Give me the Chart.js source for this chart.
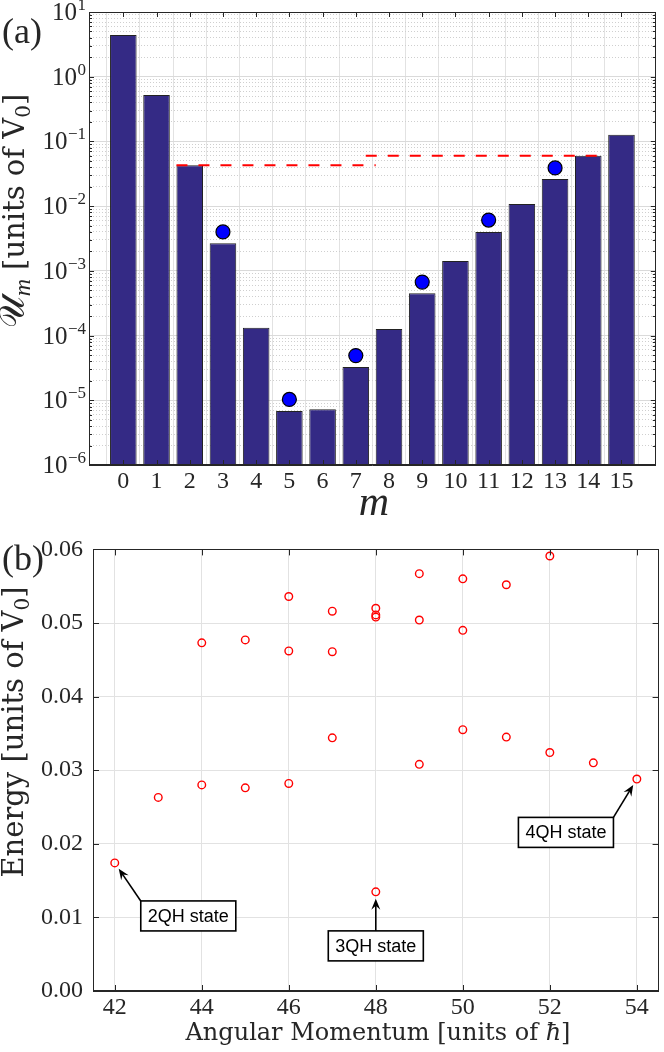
<!DOCTYPE html>
<html lang="en">
<head>
<meta charset="UTF-8">
<title>Pseudopotentials and low-lying spectrum</title>
<script src="https://cdn.jsdelivr.net/npm/chart.js@4"></script>
<style>
  body { margin: 0; background: #fff; }
  .panel { position: absolute; left: 0; width: 664px; }
  #panelA { top: 0; height: 525px; }
  #panelB { top: 525px; height: 527px; }
</style>
</head>
<body>
<div class="panel" id="panelA"><canvas id="chartA"></canvas></div>
<div class="panel" id="panelB"><canvas id="chartB"></canvas></div>
<script>
// ---- panel (a): pseudopotentials U_m ----
const mLabels = ['0','1','2','3','4','5','6','7','8','9','10','11','12','13','14','15'];
const mValues = [0,1,2,3,4,5,6,7,8,9,10,11,12,13,14,15];
const umBars = [4.4, 0.52, 0.043, 0.00266, 1.32e-4, 6.8e-6, 7.3e-6, 3.26e-5, 1.26e-4, 4.5e-4, 1.42e-3, 4.0e-3, 0.0108, 0.0262, 0.060, 0.127];
const dotM = [3, 5, 7, 9, 11, 13];
const dotU = [0.0040, 1.03e-5, 4.9e-5, 6.7e-4, 0.0061, 0.039];
const gap1M = [1.6, 7.6];
const gap1U = [0.043, 0.043];
const gap2M = [7.3, 14.4];
const gap2U = [0.060, 0.060];
const decadeExps = [-6, -5, -4, -3, -2, -1, 0, 1];

// ---- panel (b): energies vs angular momentum ----
const angMom = [42, 43, 44, 44, 45, 45, 46, 46, 46, 47, 47, 47, 48, 48, 48, 48, 49, 49, 49, 50, 50, 50, 51, 51, 52, 52, 53, 54];
const energy = [0.0174, 0.0263, 0.0280, 0.0473, 0.0276, 0.0477, 0.0282, 0.0462, 0.0536, 0.0344, 0.0461, 0.0516,
                0.01347, 0.0508, 0.0511, 0.0520, 0.0308, 0.0504, 0.0567, 0.0355, 0.0490, 0.0560, 0.0345, 0.0552,
                0.0324, 0.0591, 0.0310, 0.0288];
const lTicks = [42, 44, 46, 48, 50, 52, 54];
const eTicks = [0, 0.01, 0.02, 0.03, 0.04, 0.05, 0.06];
const noteText = ['2QH state', '3QH state', '4QH state'];
const noteL = [42, 48, 54];
const noteE = [0.0174, 0.01347, 0.0288];
const noteBoxL = [43.69, 48, 52.37];
const noteBoxE = [0.0102, 0.00613, 0.02155];
const noteTail = ['tl', 'tc', 'tr'];

const SERIF = "'Liberation Serif', 'Times New Roman', serif";
const TSERIF = "'DejaVu Serif', serif";
const SANS = "'Liberation Sans', Arial, sans-serif";
const AXIS = '#262626';

// draw a run of text pieces along a baseline, optionally rotated
function drawRun(ctx, parts, x, y, angle, align) {
  ctx.save();
  ctx.translate(x, y);
  ctx.rotate(angle);
  ctx.textBaseline = 'alphabetic';
  ctx.textAlign = 'left';
  let total = 0;
  parts.forEach(p => { ctx.font = p.font; total += ctx.measureText(p.t).width + (p.gap || 0); });
  let cx = align === 'center' ? -total / 2 : 0;
  parts.forEach(p => {
    ctx.font = p.font;
    ctx.fillText(p.t, cx, p.dy || 0);
    cx += ctx.measureText(p.t).width + (p.gap || 0);
  });
  ctx.restore();
}

function drawBox(ctx, a) {
  ctx.save();
  ctx.strokeStyle = AXIS;
  ctx.lineWidth = 1;
  ctx.strokeRect(Math.round(a.left) + 0.5, Math.round(a.top) + 0.5, Math.round(a.right - a.left) - 1, Math.round(a.bottom - a.top) - 1);
  ctx.restore();
}

function inwardTick(ctx, x1, y1, x2, y2) {
  ctx.beginPath();
  ctx.moveTo(x1, y1);
  ctx.lineTo(x2, y2);
  ctx.stroke();
}

const frameA = {
  id: 'frameA',
  afterDraw(chart) {
    const ctx = chart.ctx, a = chart.chartArea;
    const xs = chart.scales.x, ys = chart.scales.y;
    drawBox(ctx, a);
    ctx.save();
    ctx.strokeStyle = AXIS;
    ctx.lineWidth = 1;
    mValues.forEach(v => {
      const px = Math.round(xs.getPixelForValue(v)) + 0.5;
      inwardTick(ctx, px, a.bottom, px, a.bottom - 5);
      inwardTick(ctx, px, a.top, px, a.top + 5);
    });
    ys.ticks.forEach(t => {
      const py = Math.round(ys.getPixelForValue(t.value)) + 0.5;
      const len = t.major ? 5 : 3;
      inwardTick(ctx, a.left, py, a.left + len, py);
      inwardTick(ctx, a.right, py, a.right - len, py);
    });
    // y tick labels 10^n
    ctx.fillStyle = AXIS;
    ctx.textAlign = 'right';
    ctx.textBaseline = 'alphabetic';
    decadeExps.forEach(e => {
      const py = ys.getPixelForValue(Math.pow(10, e));
      const expText = e < 0 ? '\u2212' + Math.abs(e) : String(e);
      ctx.font = '17px ' + SERIF;
      const ew = ctx.measureText(expText).width;
      ctx.fillText(expText, 86, py - 2);
      ctx.font = '25px ' + SERIF;
      ctx.fillText('10', 86 - ew - 0.5, py + 8);
    });
    // axis titles and panel letter
    drawRun(ctx, [{ t: 'm', font: 'italic 42px ' + SERIF }], 374, 515, 0, 'center');
    drawRun(ctx, [
      { t: '\u{1D4B0}', font: '35px ' + TSERIF },
      { t: 'm', font: 'italic 24px ' + SERIF, dy: 6, gap: 9 },
      { t: '[units of V', font: '29px ' + TSERIF },
      { t: '0', font: '20px ' + TSERIF, dy: 6 },
      { t: ']', font: '29px ' + TSERIF }
    ], 24, 211, -Math.PI / 2, 'center');
    drawRun(ctx, [{ t: '(a)', font: '36px ' + SERIF }], 2, 43, 0);
    ctx.restore();
  }
};

const frameB = {
  id: 'frameB',
  afterDraw(chart) {
    const ctx = chart.ctx, a = chart.chartArea;
    const xs = chart.scales.x, ys = chart.scales.y;
    drawBox(ctx, a);
    ctx.save();
    ctx.strokeStyle = AXIS;
    ctx.lineWidth = 1;
    lTicks.forEach(v => {
      const px = Math.round(xs.getPixelForValue(v)) + 0.5;
      inwardTick(ctx, px, a.bottom, px, a.bottom - 6);
      inwardTick(ctx, px, a.top, px, a.top + 6);
    });
    eTicks.forEach(v => {
      const py = Math.round(ys.getPixelForValue(v)) + 0.5;
      inwardTick(ctx, a.left, py, a.left + 6, py);
      inwardTick(ctx, a.right, py, a.right - 6, py);
    });
    ctx.fillStyle = AXIS;
    drawRun(ctx, [
      { t: 'Angular Momentum [units of ', font: '24px ' + TSERIF },
      { t: '\u0127', font: 'italic 24px ' + TSERIF },
      { t: ']', font: '24px ' + TSERIF }
    ], 378, 515, 0, 'center');
    drawRun(ctx, [
      { t: 'Energy [units of V', font: '29px ' + TSERIF },
      { t: '0', font: '20px ' + TSERIF, dy: 6 },
      { t: ']', font: '29px ' + TSERIF }
    ], 23, 207, -Math.PI / 2, 'center');
    drawRun(ctx, [{ t: '(b)', font: '36px ' + SERIF }], 2, 45, 0);

    // annotations: arrow from box to state, then box with label
    noteText.forEach((txt, i) => {
      const px = xs.getPixelForValue(noteL[i]), py = ys.getPixelForValue(noteE[i]);
      const bx = xs.getPixelForValue(noteBoxL[i]), by = ys.getPixelForValue(noteBoxE[i]);
      ctx.font = '18px ' + SANS;
      const w = ctx.measureText(txt).width + 14, h = 30;
      const left = bx - w / 2, top = by - h / 2;
      let tx = bx, ty = top;
      if (noteTail[i] === 'tl') tx = left;
      if (noteTail[i] === 'tr') tx = left + w;
      const dx = px - tx, dy = py - ty, d = Math.hypot(dx, dy);
      const ux = dx / d, uy = dy / d;
      const hx = px - ux * 7, hy = py - uy * 7;
      ctx.strokeStyle = '#000';
      ctx.fillStyle = '#000';
      ctx.lineWidth = 1.6;
      ctx.beginPath();
      ctx.moveTo(tx, ty);
      ctx.lineTo(hx - ux * 6, hy - uy * 6);
      ctx.stroke();
      ctx.beginPath();
      ctx.moveTo(hx, hy);
      ctx.lineTo(hx - ux * 11 - uy * 4.5, hy - uy * 11 + ux * 4.5);
      ctx.lineTo(hx - ux * 7, hy - uy * 7);
      ctx.lineTo(hx - ux * 11 + uy * 4.5, hy - uy * 11 - ux * 4.5);
      ctx.closePath();
      ctx.fill();
      ctx.fillStyle = '#fff';
      ctx.fillRect(left, top, w, h);
      ctx.lineWidth = 1.6;
      ctx.strokeRect(left, top, w, h);
      ctx.fillStyle = '#000';
      ctx.textAlign = 'center';
      ctx.textBaseline = 'middle';
      ctx.fillText(txt, bx, by + 1);
    });
    ctx.restore();
  }
};

new Chart(document.getElementById('chartA'), {
  type: 'bar',
  data: {
    datasets: [
      {
        type: 'scatter',
        data: dotM.map((m, i) => ({ x: m, y: dotU[i] })),
        pointRadius: 7,
        pointBackgroundColor: '#0000ff',
        pointBorderColor: '#000',
        pointBorderWidth: 1.2,
        order: 0
      },
      {
        type: 'line',
        data: gap1M.map((m, i) => ({ x: m, y: gap1U[i] })),
        borderColor: '#ff0000',
        borderWidth: 2,
        borderDash: [11, 11],
        pointRadius: 0,
        order: 1
      },
      {
        type: 'line',
        data: gap2M.map((m, i) => ({ x: m, y: gap2U[i] })),
        borderColor: '#ff0000',
        borderWidth: 2,
        borderDash: [11, 11],
        pointRadius: 0,
        order: 1
      },
      {
        type: 'bar',
        data: mValues.map((m, i) => ({ x: m, y: umBars[i] })),
        backgroundColor: '#342a85',
        borderColor: '#222',
        borderWidth: 1,
        barPercentage: 0.8,
        categoryPercentage: 1,
        order: 2
      }
    ]
  },
  options: {
    responsive: true,
    maintainAspectRatio: false,
    animation: false,
    layout: { padding: { left: 0, right: 4, top: 12, bottom: 0 } },
    plugins: { legend: { display: false }, tooltip: { enabled: false } },
    scales: {
      x: {
        type: 'linear',
        min: -0.5,
        max: 15.5,
        afterBuildTicks: s => { s.ticks = mValues.map(v => ({ value: v })); },
        afterFit: s => { s.height = 60; },
        ticks: {
          callback: (v, i) => mLabels[i],
          font: { family: SERIF, size: 24 },
          color: AXIS,
          padding: 2,
          maxRotation: 0,
          autoSkip: false
        },
        grid: { color: '#e2e2e2', drawTicks: false },
        border: { color: AXIS }
      },
      y: {
        type: 'logarithmic',
        min: 1e-6,
        max: 10,
        afterBuildTicks: s => {
          const t = [];
          decadeExps.forEach(e => {
            t.push({ value: Math.pow(10, e), major: true });
            if (e < 1) for (let k = 2; k <= 9; k++) t.push({ value: k * Math.pow(10, e), major: false });
          });
          s.ticks = t;
        },
        afterFit: s => { s.width = 89; },
        ticks: { display: false },
        grid: {
          color: c => (c.tick && !c.tick.major) ? '#cfcfcf' : '#dadada',
          drawTicks: false
        },
        border: {
          color: AXIS,
          dash: c => (c.type === 'tick' && c.tick && !c.tick.major) ? [1, 2] : []
        }
      }
    }
  },
  plugins: [frameA]
});

new Chart(document.getElementById('chartB'), {
  type: 'scatter',
  data: {
    datasets: [{
      data: angMom.map((l, i) => ({ x: l, y: energy[i] })),
      pointRadius: 3.8,
      pointBorderWidth: 1.4,
      pointBorderColor: '#ff0000',
      pointBackgroundColor: 'rgba(0,0,0,0)'
    }]
  },
  options: {
    responsive: true,
    maintainAspectRatio: false,
    animation: false,
    layout: { padding: { left: 0, right: 1, top: 13, bottom: 0 } },
    plugins: { legend: { display: false }, tooltip: { enabled: false } },
    scales: {
      x: {
        type: 'linear',
        min: 41.5,
        max: 54.5,
        afterBuildTicks: s => { s.ticks = lTicks.map(v => ({ value: v })); },
        afterFit: s => { s.height = 61; },
        ticks: {
          callback: (v, i) => String(lTicks[i]),
          font: { family: SERIF, size: 24 },
          color: AXIS,
          padding: 2,
          maxRotation: 0,
          autoSkip: false
        },
        grid: { color: '#e2e2e2', drawTicks: false },
        border: { color: AXIS }
      },
      y: {
        type: 'linear',
        min: 0,
        max: 0.06,
        afterBuildTicks: s => { s.ticks = eTicks.map(v => ({ value: v })); },
        afterFit: s => { s.width = 93; },
        ticks: {
          callback: (v, i) => eTicks[i].toFixed(2),
          font: { family: SERIF, size: 24 },
          color: AXIS,
          padding: 10
        },
        grid: { color: '#e2e2e2', drawTicks: false },
        border: { color: AXIS }
      }
    }
  },
  plugins: [frameB]
});
</script>
</body>
</html>
